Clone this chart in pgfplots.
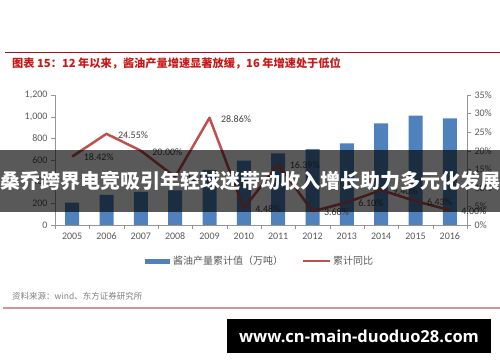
\documentclass[border=0pt]{standalone}
\usepackage{fontspec}
\setmainfont{Carlito}
\newfontfamily\cjk{Noto Sans CJK SC}
\newfontfamily\wm{Open Sans}
\usepackage{pgfplots}
\pgfplotsset{compat=1.18}
\definecolor{barblue}{RGB}{79,129,189}
\definecolor{linered}{RGB}{192,80,77}
\definecolor{titlered}{RGB}{200,25,25}
\definecolor{axisgray}{RGB}{150,150,150}
\definecolor{txtgray}{RGB}{89,89,89}
\definecolor{lblgray}{RGB}{64,64,64}
\definecolor{pinkline}{RGB}{205,150,155}
\begin{document}
\begin{tikzpicture}
\path[use as bounding box] (0pt,0pt) rectangle (500pt,362pt);
% title and rule
\draw[titlered!80!black, line width=1pt] (5pt,309pt) -- (500pt,309pt);
\node[anchor=west, inner sep=0, text=titlered, font={\cjk\bfseries\fontsize{11.2}{13}\selectfont}] at (12pt,299pt) {图表 15：12 年以来，酱油产量增速显著放缓，16 年增速处于低位};
\pgfplotsset{
  common/.style={
    at={(55pt,137pt)}, anchor=south west, scale only axis,
    width=412pt, height=130pt,
    xmin=-0.5, xmax=11.5,
    /pgf/number format/assume math mode=true,
    tick align=outside,
    major tick length=4pt, minor tick length=4pt,
    tick style={axisgray},
    axis line style={axisgray,-},
    ticklabel style={font=\fontsize{10}{12}\selectfont, text=txtgray},
  }
}
\begin{axis}[common,
  ymin=0, ymax=1200,
  axis x line*=bottom, axis y line*=left,
  xtick={0,...,11},
  xticklabels={2005,2006,2007,2008,2009,2010,2011,2012,2013,2014,2015,2016},
  major x tick style={draw=none},
  minor xtick={-0.5,0.5,...,11.5},
  ytick={0,200,...,1200},
  yticklabel style={/pgf/number format/1000 sep={,}},
  ybar, bar width=14pt,
]
\addplot[fill=barblue, draw=none] coordinates {
(0,206) (1,278) (2,305) (3,320) (4,508) (5,595) (6,662) (7,700) (8,754) (9,939) (10,1009) (11,985)};
\end{axis}
\begin{axis}[common,
  ymin=0, ymax=35,
  axis y line*=right, axis x line=none,
  ytick={0,5,...,35},
  yticklabel={\pgfmathprintnumber{\tick}\%},
  nodes near coords={\pgfmathprintnumber[fixed,fixed zerofill,precision=2]{\pgfplotspointmeta}\%},
  every node near coord/.append style={anchor=west, xshift=7pt, yshift=-1pt, font=\fontsize{10}{12}\selectfont, text=lblgray},
]
\addplot[linered, line width=2.5pt, line join=round, mark=none] coordinates {
(0,18.42) (1,24.55) (2,20.00) (3,12.94) (4,28.86) (5,4.48) (6,16.39) (7,3.68) (8,6.10) (9,9.40) (10,6.43) (11,4.00)};
\end{axis}
% legend
\fill[barblue] (145pt,98pt) rectangle (170pt,103.5pt);
\node[anchor=west, inner sep=0, text=txtgray, font={\cjk\fontsize{10}{12}\selectfont}] at (173pt,101pt) {酱油产量累计值（万吨）};
\draw[linered, line width=2.5pt] (303pt,101pt) -- (330pt,101pt);
\node[anchor=west, inner sep=0, text=txtgray, font={\cjk\fontsize{10}{12}\selectfont}] at (333pt,101pt) {累计同比};
% source
\node[anchor=west, inner sep=0, text=gray, font={\cjk\fontsize{8.5}{10}\selectfont}] at (12pt,66pt) {资料来源：wind、东方证券研究所};
\draw[pinkline, line width=1.5pt] (3pt,54pt) -- (500pt,54pt);
% overlay banner
\fill[black, opacity=0.65] (0pt,150pt) rectangle (500pt,212pt);
\node[text=white, inner sep=0, font={\cjk\bfseries\fontsize{20}{22}\selectfont}] at (250pt,181pt) {桑乔跨界电竞吸引年轻球迷带动收入增长助力多元化发展};
% watermark
\fill[black] (227pt,9pt) rectangle (491pt,43pt);
\node[text=white, inner sep=0, font={\wm\bfseries\fontsize{16.5}{19}\selectfont}] at (359pt,26pt) {www.cn-main-duoduo28.com};
\end{tikzpicture}
\end{document}
